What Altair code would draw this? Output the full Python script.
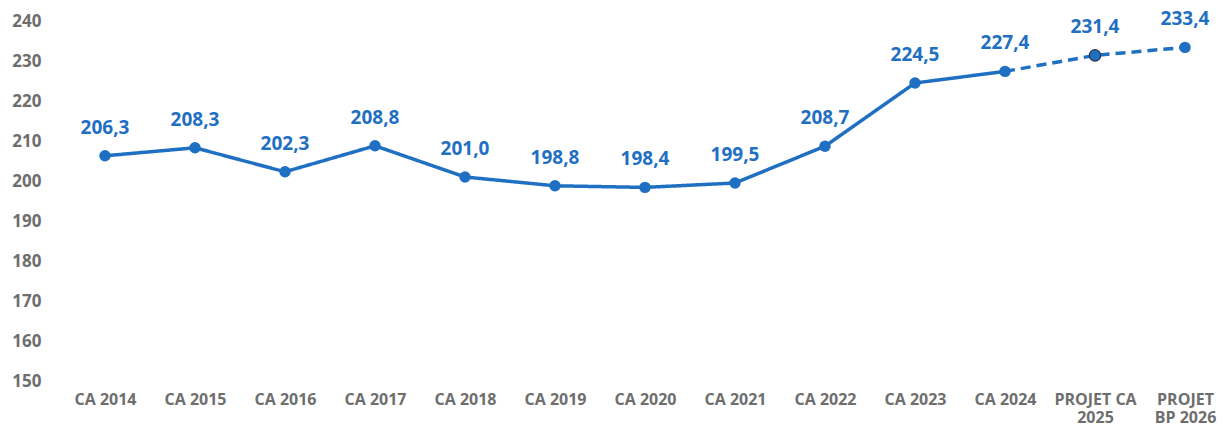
import altair as alt
import pandas as pd

categories = ["CA 2014", "CA 2015", "CA 2016", "CA 2017", "CA 2018", "CA 2019",
              "CA 2020", "CA 2021", "CA 2022", "CA 2023", "CA 2024",
              "PROJET CA\n2025", "PROJET\nBP 2026"]
values = [206.3, 208.3, 202.3, 208.8, 201.0, 198.8, 198.4, 199.5, 208.7,
          224.5, 227.4, 231.4, 233.4]
y_ticks = [150, 160, 170, 180, 190, 200, 210, 220, 230, 240]

BLUE = "#1f6fc2"
GREY = "#6e6e6e"
FONT = "Open Sans"

rows = []
for i, (c, v) in enumerate(zip(categories, values)):
    if i <= 10:
        rows.append({"cat": c, "v": v, "seg": "real", "i": i})
    if i >= 10:
        rows.append({"cat": c, "v": v, "seg": "projet", "i": i})
line_df = pd.DataFrame(rows)
pts_df = pd.DataFrame({"cat": categories, "v": values, "i": list(range(len(values)))})

x = alt.X("cat:N", sort=categories,
          scale=alt.Scale(type="point", padding=0.3),
          axis=alt.Axis(title=None, labelAngle=0, domain=False, ticks=False,
                        labelExpr="split(datum.label, '\\n')",
                        labelFont=FONT, labelFontSize=16, labelFontWeight="bold",
                        labelColor=GREY, labelPadding=10, labelLineHeight=18,
                        labelBaseline="top"))
y = alt.Y("v:Q", scale=alt.Scale(domain=[150, 240], nice=False, zero=False),
          axis=alt.Axis(title=None, values=y_ticks, grid=False, domain=False,
                        ticks=False, labelFont=FONT, labelFontSize=17,
                        labelFontWeight="bold", labelColor=GREY, labelPadding=37))

lines = alt.Chart(line_df).mark_line(strokeWidth=3.5, color=BLUE).encode(
    x=x, y=y,
    detail="seg:N",
    strokeDash=alt.StrokeDash("seg:N", scale=alt.Scale(domain=["real", "projet"],
                                                        range=[[1, 0], [10, 6]]),
                              legend=None),
    order="i:Q",
)

points = alt.Chart(pts_df).mark_circle(size=130, color=BLUE, opacity=1).encode(
    x=x, y=y,
    stroke=alt.condition("datum.i == 11", alt.value("#2a3440"), alt.value(BLUE)),
    strokeWidth=alt.condition("datum.i == 11", alt.value(1.2), alt.value(0)),
)

labels = alt.Chart(pts_df).transform_calculate(
    lab="replace(format(datum.v, '.1f'), '.', ',')"
).mark_text(dy=-28, font=FONT, fontSize=19, fontWeight="bold", color=BLUE,
            baseline="middle").encode(x=x, y=y, text="lab:N")

chart = alt.layer(lines, points, labels).properties(
    width=1134, height=360,
    padding={"left": 70, "top": 13, "right": 5, "bottom": 45},
    autosize=alt.AutoSizeParams(type="none"),
    background="white",
).configure_view(stroke=None)

chart.save("out.html", embed_options={"renderer": "svg", "actions": False})
